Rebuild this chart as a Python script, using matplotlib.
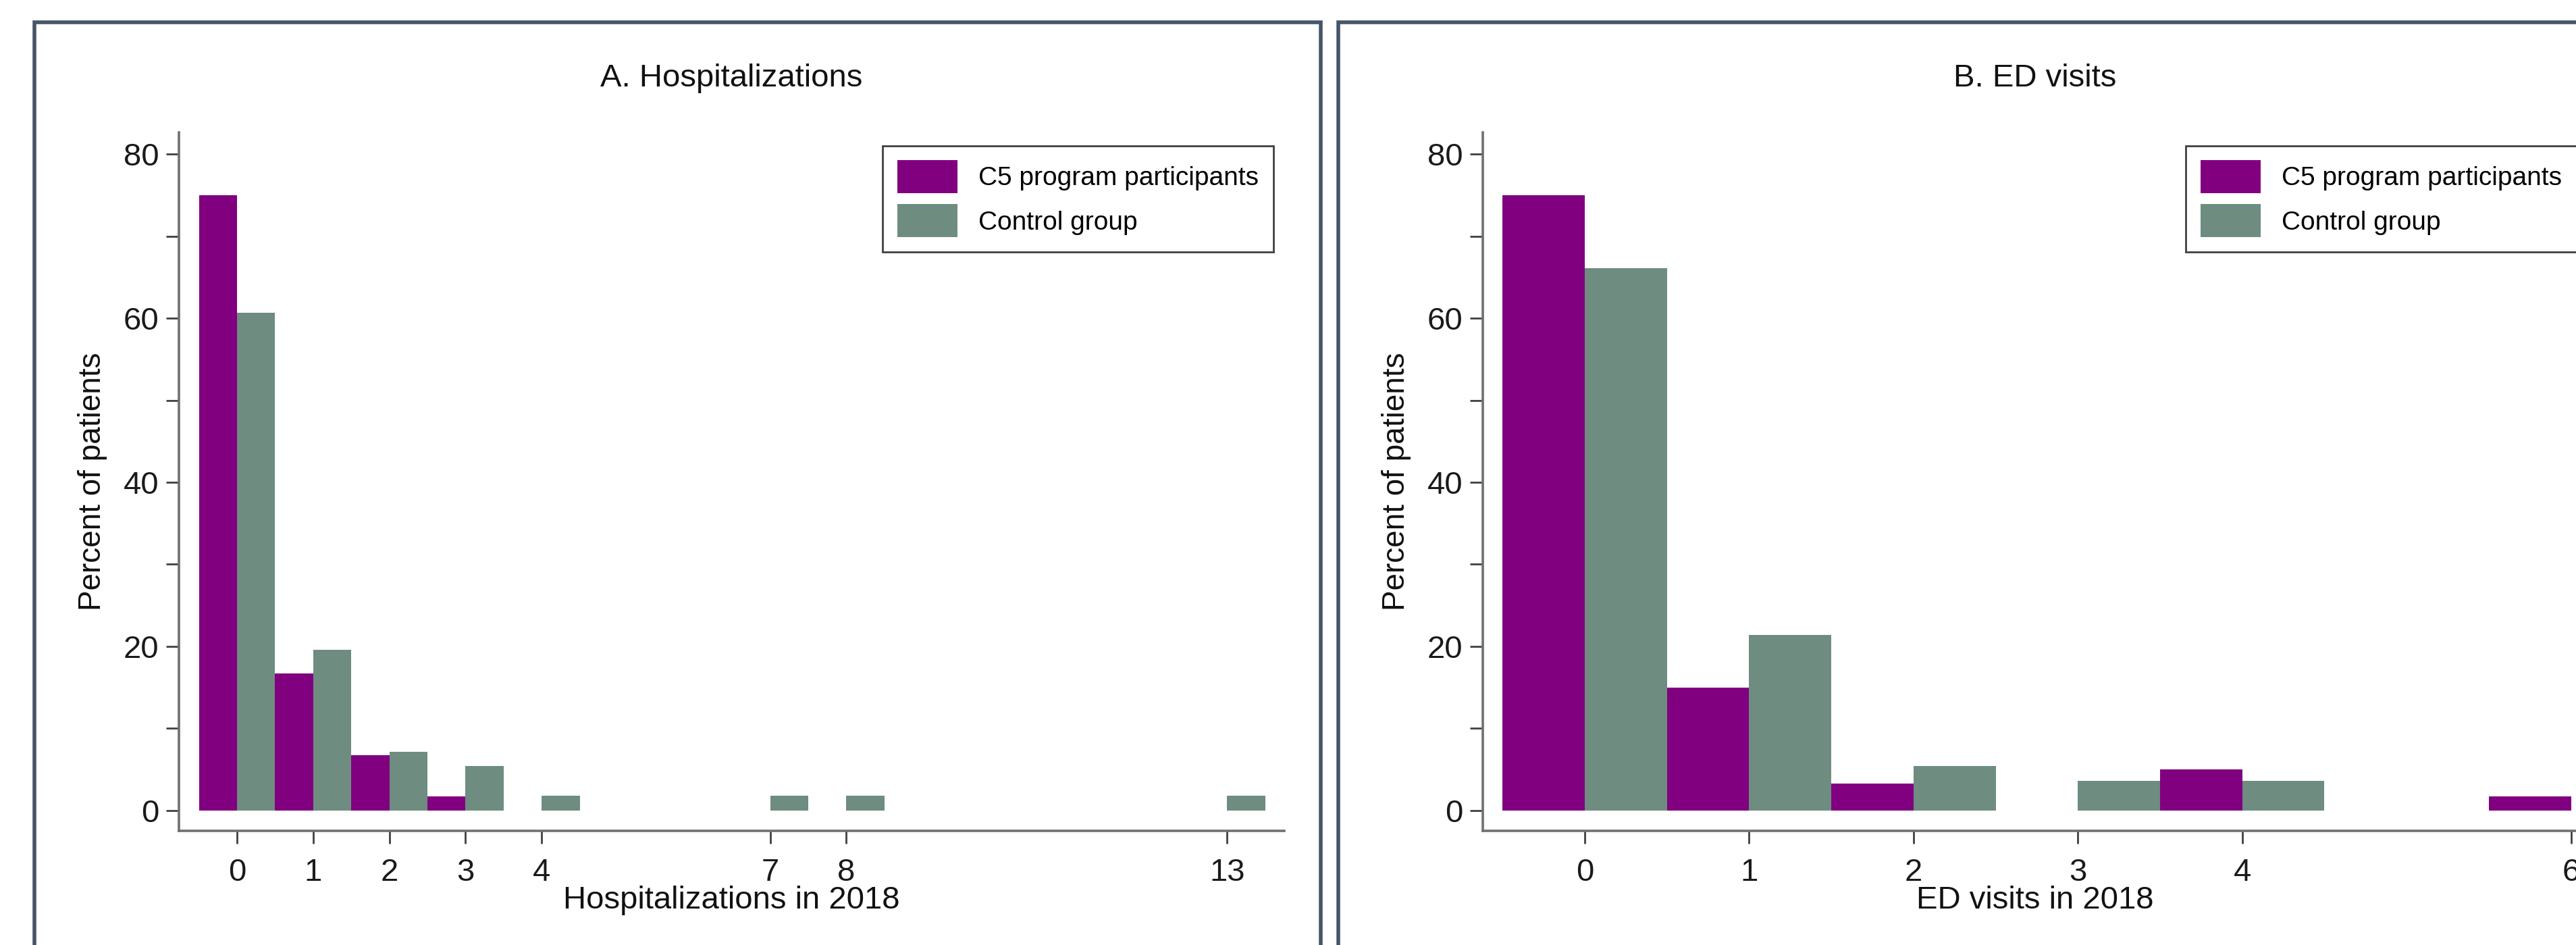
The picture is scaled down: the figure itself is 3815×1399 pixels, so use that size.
import matplotlib
matplotlib.use("Agg")
import matplotlib.pyplot as plt
from matplotlib.patches import Rectangle

plt.rcParams['font.family'] = ['Liberation Sans', 'DejaVu Sans']

# data (percent of patients)
hosp_counts = [0, 1, 2, 3, 4, 7, 8, 13]
hosp_c5 = [75.0, 16.7, 6.7, 1.7, 0.0, 0.0, 0.0, 0.0]
hosp_ctrl = [60.7, 19.6, 7.1, 5.4, 1.8, 1.8, 1.8, 1.8]

ed_counts = [0, 1, 2, 3, 4, 6]
ed_c5 = [75.0, 15.0, 3.3, 0.0, 5.0, 1.7]
ed_ctrl = [66.1, 21.4, 5.4, 3.6, 3.6, 0.0]

C5_COLOR = '#800080'
CTRL_COLOR = '#6e8c80'
FRAME = '#465569'

W, H = 3816, 1399
fig = plt.figure(figsize=(W / 100, H / 100), dpi=100)
fig.patch.set_facecolor('white')


def px_axes(x0, x1, ytop, ybot):
    return [x0 / W, (H - ybot) / H, (x1 - x0) / W, (ybot - ytop) / H]


def panel(ax, counts, c5, ctrl, xlim, title, xlabel):
    ax.bar(counts, c5, width=-0.5, align='edge', color=C5_COLOR, linewidth=0,
           label='C5 program participants')
    ax.bar(counts, ctrl, width=0.5, align='edge', color=CTRL_COLOR, linewidth=0,
           label='Control group')
    ax.set_xlim(*xlim)
    ax.set_ylim(-2.5, 82.66)
    ax.set_xticks(counts)
    ax.set_yticks([0, 20, 40, 60, 80])
    ax.set_yticks([10, 30, 50, 70], minor=True)

    for s in ['top', 'right']:
        ax.spines[s].set_visible(False)
    for s in ['left', 'bottom']:
        ax.spines[s].set_color('#707070')
        ax.spines[s].set_linewidth(2.6)

    ax.tick_params(axis='both', which='both', length=13.5, width=2.0,
                   color='#404040', labelsize=34, labelcolor='#1a1a1a')
    ax.tick_params(axis='y', which='both', pad=8)
    ax.tick_params(axis='x', pad=15)

    ax.text(0.5, 1.077, title, transform=ax.transAxes, ha='center', va='center',
            fontsize=34, color='#111111')
    ax.set_xlabel(xlabel, fontsize=34, color='#111111', va='center')
    ax.xaxis.set_label_coords(0.5, -0.1)
    ax.set_ylabel('Percent of patients', fontsize=33, color='#111111', va='center')
    ax.yaxis.set_label_coords(-0.078, 0.5)

    leg = ax.legend(loc='upper right', bbox_to_anchor=(0.99, 0.981), borderaxespad=0,
                    fontsize=28, handlelength=2.3, handleheight=1.56, handletextpad=0.8,
                    borderpad=0.55, labelspacing=0.42, fancybox=False, framealpha=1)
    leg.get_frame().set_edgecolor('#404040')
    leg.get_frame().set_linewidth(2.0)


ax1 = fig.add_axes(px_axes(265, 1902, 196, 1230))
panel(ax1, hosp_counts, hosp_c5, hosp_ctrl, (-0.762, 13.75),
      'A. Hospitalizations', 'Hospitalizations in 2018')

ax2 = fig.add_axes(px_axes(2196, 3832, 196, 1230))
panel(ax2, ed_counts, ed_c5, ed_ctrl, (-0.62, 6.10),
      'B. ED visits', 'ED visits in 2018')

# panel frames
fig.add_artist(Rectangle((51.5 / W, -0.1), (1956.5 - 51.5) / W, 1.1 - 33.5 / H,
                         transform=fig.transFigure, fill=False, edgecolor=FRAME,
                         linewidth=4.0))
fig.add_artist(Rectangle((1982 / W, -0.1), 0.6, 1.1 - 33.5 / H,
                         transform=fig.transFigure, fill=False, edgecolor=FRAME,
                         linewidth=4.0))

fig.savefig('out.png', dpi=100)
